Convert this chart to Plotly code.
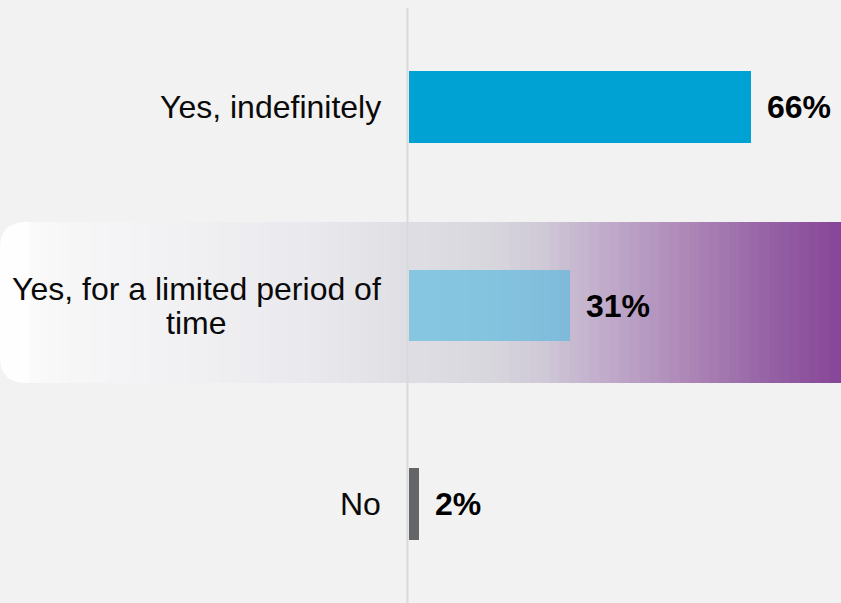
import plotly.graph_objects as go

# ---- data ----
categories = ["Yes, indefinitely", "Yes, for a limited period of<br>time", "No"]
values = [66, 31, 2]
value_labels = ["66%", "31%", "2%"]
bar_colors = ["#00a2d3", "rgba(80,184,222,0.62)", "#646569"]

W, H = 841, 603
BG = "#f2f2f2"
FONT = "Liberation Sans, Arial, sans-serif"
FS = 32
PX_PER_UNIT = 5.185
X0_PX = 409
T_PX = 8

fig = go.Figure()
fig.add_trace(go.Bar(
    x=values, y=list(range(len(categories))), orientation="h",
    marker=dict(color=bar_colors, line=dict(width=0)),
    width=0.36, showlegend=False, hoverinfo="skip",
))

def px_x(p):
    return p / W

def px_y(p):
    return (H - p) / (H - T_PX)

# highlight band gradient (behind the middle row)
stops = [
    (0, (255, 255, 255)), (60, (247, 247, 248)), (200, (240, 239, 242)),
    (330, (232, 231, 236)), (408, (223, 222, 228)), (490, (216, 215, 222)),
    (540, (208, 202, 215)), (600, (193, 174, 203)), (680, (175, 139, 185)),
    (760, (152, 102, 166)), (841, (134, 70, 152)),
]

def color_at(p):
    for (a, ca), (b, cb) in zip(stops[:-1], stops[1:]):
        if a <= p <= b:
            t = (p - a) / (b - a) if b > a else 0
            c = [round(ca[i] + (cb[i] - ca[i]) * t) for i in range(3)]
            return "rgb(%d,%d,%d)" % tuple(c)
    return "rgb(%d,%d,%d)" % stops[-1][1]

band_top, band_bot = 222, 383
y0, y1 = px_y(band_bot), px_y(band_top)
shapes = []
step = 10
r = 26
rx, ry = r / W, r / (H - T_PX)
xa, xb = 0.0, px_x(r + 4)
path = (f"M {xa+rx},{y1} L {xb},{y1} L {xb},{y0} L {xa+rx},{y0} "
        f"Q {xa},{y0} {xa},{y0+ry} L {xa},{y1-ry} Q {xa},{y1} {xa+rx},{y1} Z")
shapes.append(dict(type="path", xref="paper", yref="paper", path=path,
                   fillcolor=color_at(10), line=dict(width=0), layer="below"))
p = r + 4
while p < W:
    q = min(p + step, W)
    shapes.append(dict(type="rect", xref="paper", yref="paper",
                       x0=px_x(p - 0.5), x1=px_x(q + 0.5), y0=y0, y1=y1,
                       fillcolor=color_at((p + q) / 2), line=dict(width=0),
                       layer="below"))
    p = q

# vertical axis line
shapes.append(dict(type="line", xref="paper", yref="paper",
                   x0=px_x(407.5), x1=px_x(407.5), y0=0, y1=1,
                   line=dict(color="#d9d9d9", width=2), layer="below"))

annotations = []
LABEL_RIGHT = 383
for i, cat in enumerate(categories):
    lines = cat.split("<br>")
    if len(lines) == 1:
        annotations.append(dict(
            x=px_x(LABEL_RIGHT), xref="paper", y=i, yref="y", text=cat,
            xanchor="right", yanchor="middle", showarrow=False,
            font=dict(family=FONT, size=FS, color="#0a0a0a")))
    else:
        n = len(lines)
        for j, ln in enumerate(lines):
            annotations.append(dict(
                x=px_x(196), xref="paper", y=i, yref="y", text=ln,
                xanchor="center", yanchor="middle", showarrow=False,
                yshift=(n - 1) / 2 * 34 - j * 34,
                font=dict(family=FONT, size=FS, color="#0a0a0a")))

for i, (v, lab) in enumerate(zip(values, value_labels)):
    annotations.append(dict(
        x=v, xref="x", y=i, yref="y", text="<b>%s</b>" % lab,
        xanchor="left", yanchor="middle", showarrow=False, xshift=14,
        font=dict(family=FONT, size=FS, color="#000000")))

x_max = (W - X0_PX) / PX_PER_UNIT
fig.update_layout(
    width=W, height=H, paper_bgcolor=BG, plot_bgcolor=BG,
    margin=dict(l=0, r=0, t=T_PX, b=0, pad=0),
    xaxis=dict(domain=[X0_PX / W, 1], range=[0, x_max], visible=False,
               fixedrange=True),
    yaxis=dict(range=[len(categories) - 0.5, -0.5], visible=False,
               fixedrange=True),
    shapes=shapes, annotations=annotations, bargap=0,
)
fig.write_html("out.html", config={"displayModeBar": False})
